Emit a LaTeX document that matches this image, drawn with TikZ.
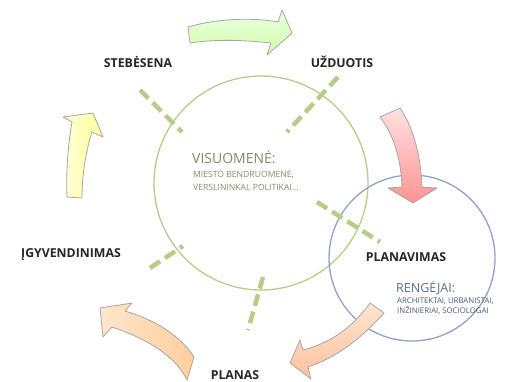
\documentclass[tikz,border=0pt]{standalone}
\usepackage{fontspec}
\setmainfont{Open Sans}
\usetikzlibrary{positioning}
\definecolor{leafgreen}{HTML}{B8CC8A}
\definecolor{skyblue}{HTML}{8DA3C9}
\definecolor{mossgray}{HTML}{7E8C66}
\definecolor{slateblue}{HTML}{5C6F8E}
\tikzstyle{stage}=[
	font=\bfseries\fontsize{12.3}{14}\selectfont,
	text=black!85,
	inner sep=0pt
]
\tikzstyle{ring}=[
	circle,
	inner sep=0pt,
	line width=1.3pt
]
\tikzstyle{cut}=[
	line width=4.5pt,
	draw=leafgreen,
	dash pattern=on 12pt off 6pt
]
\tikzstyle{bigarrow}=[
	draw=black!35,
	line width=0.8pt,
	line join=round
]

\begin{document}
\begin{tikzpicture}[x=1pt,y=-1pt]
\useasboundingbox (0,0) rectangle (508,381);
% circles
\node [ring, draw=leafgreen, minimum size=214pt] (society) at (261,183) {};
\node [ring, draw=skyblue, minimum size=166pt] (planners) at (412,258) {};
% dashed cuts
\draw [cut] (140,90) -- (182,132);
\draw [cut] (338,77) -- (287,132);
\draw [cut] (317,202) -- (380,242);
\draw [cut] (150,268) -- (183,246);
\draw [cut] (263,277) -- (248,330);
% block arrows
\path [bigarrow, top color=green!10!white, bottom color=green!45!yellow!35]
	(188,27) .. controls (215,19) and (250,17) .. (278,22) -- (282,10) -- (292,33) -- (267,55) -- (271,43)
	.. controls (245,40) and (215,39) .. (190,43) -- cycle;
\path [bigarrow, top color=red!12, bottom color=red!42]
	(380,117) -- (400,108) .. controls (415,130) and (421,160) .. (422,187) -- (437,188) -- (413,203) -- (388,188) -- (402,187)
	.. controls (401,160) and (394,135) .. (380,117) -- cycle;
\path [bigarrow, top color=red!15!orange!18, bottom color=red!30!orange!38]
	(370,303) -- (384,313) .. controls (360,340) and (335,358) .. (308,367) -- (311,379) -- (290,363) -- (300,340) -- (303,350)
	.. controls (330,343) and (352,328) .. (370,303) -- cycle;
\path [bigarrow, left color=orange!20, right color=orange!38]
	(194,357) -- (187,380) .. controls (175,355) and (145,338) .. (112,327) -- (103,337) -- (100,308) -- (132,303) -- (125,311)
	.. controls (155,320) and (180,335) .. (194,357) -- cycle;
\path [bigarrow, left color=yellow!15, right color=yellow!40]
	(67,197) .. controls (66,170) and (68,145) .. (72,122) -- (63,117) -- (93,113) -- (103,137) -- (92,132)
	.. controls (86,150) and (82,175) .. (82,198) -- cycle;
% stages
\node [stage] (monitoring) at (138,62) {STEBĖSENA};
\node [stage] (task) at (342,62) {UŽDUOTIS};
\node [stage] (planning) at (406,257) {PLANAVIMAS};
\node [stage] (plan) at (235,375) {PLANAS};
\node [stage] (implementing) at (71,255) {ĮGYVENDINIMAS};
% groups
\node [anchor=west, inner sep=0pt, text=mossgray, font=\fontsize{14}{16}\selectfont] (public) at (192,157) {VISUOMENĖ:};
\node [anchor=north west, inner sep=0pt, align=left, text=mossgray, font=\fontsize{8.6}{13}\selectfont]
	(publicitems) at (193,170) {MIESTO BENDRUOMENĖ,\\VERSLININKAI, POLITIKAI...};
\node [anchor=west, inner sep=0pt, text=slateblue, font=\fontsize{12.5}{14}\selectfont] (makers) at (396,288) {RENGĖJAI:};
\node [anchor=north west, inner sep=0pt, align=left, text=slateblue!80!black, font=\fontsize{7.8}{10}\selectfont]
	(makersitems) at (397,298) {ARCHITEKTAI, URBANISTAI,\\INŽINIERIAI, SOCIOLOGAI};
\end{tikzpicture}
\end{document}
